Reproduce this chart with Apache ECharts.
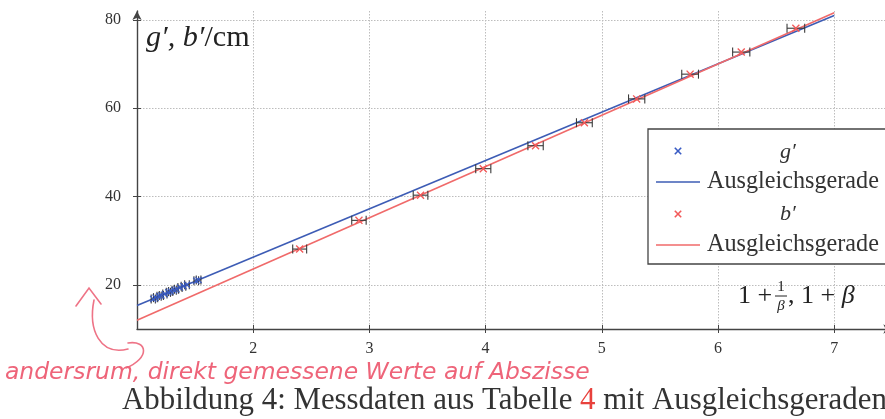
<!DOCTYPE html>
<html><head><meta charset="utf-8">
<script src="https://cdn.jsdelivr.net/npm/echarts@6/dist/echarts.min.js"></script>
<style>html,body{margin:0;padding:0;background:#fff}#c{width:885px;height:419px}</style>
</head><body><div id="c"></div>
<script>
// ---- data ----
const gX   = [1.14,1.16,1.19,1.21,1.24,1.27,1.29,1.32,1.34,1.37,1.40,1.43,1.51,1.53];
const gY   = [16.8,17.1,17.4,17.6,17.9,18.3,18.5,18.8,19.0,19.4,19.7,20.0,20.9,21.1];
const gErr = [0.018,0.018,0.018,0.018,0.018,0.018,0.018,0.018,0.018,0.018,0.02,0.02,0.02,0.02];
const bX   = [2.40,2.91,3.44,3.98,4.43,4.85,5.30,5.76,6.20,6.67];
const bY   = [28.1,34.6,40.3,46.3,51.5,56.7,62.1,67.7,72.7,78.1];
const bErr = [0.060,0.062,0.063,0.065,0.066,0.068,0.070,0.072,0.074,0.076];
const fitX    = [1, 7];
const gFitY   = [15.3, 81.0];
const bFitY   = [12.0, 81.6];
const xTicks  = [2,3,4,5,6,7];
const yTicks  = [20,40,60,80];

const BLUE='#3d5cb5', RED='#f06a6a', BLUE_M='#3a5cc4', RED_M='#f25a5a';
const SERIF='"Liberation Serif","DejaVu Serif",serif';
const CROSS='path://M0,1.2L1.2,0L5,3.8L8.8,0L10,1.2L6.2,5L10,8.8L8.8,10L5,6.2L1.2,10L0,8.8L3.8,5Z';

const cv=document.createElement('canvas').getContext('2d');
function fit(text,family,target,pre){cv.font=(pre?pre+' ':'')+'100px '+family;return 100*target/cv.measureText(text).width;}
const zip=(a,b,c)=>a.map((v,i)=>c?[v,b[i],c[i]]:[v,b[i]]);

function errBar(params,api){
  const x=api.value(0),y=api.value(1),e=api.value(2);
  const p1=api.coord([x-e,y]),p2=api.coord([x+e,y]);const h=4.5;
  const st={stroke:'#3a3a3a',lineWidth:1.1};
  return {type:'group',children:[
    {type:'line',shape:{x1:p1[0],y1:p1[1],x2:p2[0],y2:p2[1]},style:st},
    {type:'line',shape:{x1:p1[0],y1:p1[1]-h,x2:p1[0],y2:p1[1]+h},style:st},
    {type:'line',shape:{x1:p2[0],y1:p2[1]-h,x2:p2[0],y2:p2[1]+h},style:st}]};
}
function cross(cx,cy,r,color){
  return [{type:'line',z:21,shape:{x1:cx-r,y1:cy-r,x2:cx+r,y2:cy+r},style:{stroke:color,lineWidth:1.6}},
          {type:'line',z:21,shape:{x1:cx-r,y1:cy+r,x2:cx+r,y2:cy-r},style:{stroke:color,lineWidth:1.6}}];
}

const captionA='Abbildung 4: Messdaten aus Tabelle ', captionB='4', captionC=' mit Ausgleichsgeraden';
const capFs=fit(captionA+captionB+captionC,SERIF,765);
const hand='andersrum, direkt gemessene Werte auf Abszisse';
const HANDF='"DejaVu Sans",sans-serif';
const handFs=fit(hand,HANDF,585,'italic');
const legFs=fit('Ausgleichsgerade',SERIF,172);
const yNameFs=fit('g′, b′/cm',SERIF,102,'italic');
const HAND_C='#ee7386';
const hs={stroke:HAND_C,lineWidth:1.6,fill:null,lineCap:'round'};

const chart=echarts.init(document.getElementById('c'),null,{renderer:'canvas'});
chart.setOption({
  animation:false,
  grid:{left:137,top:11,width:755.3,height:318,outerBoundsMode:'none',containLabel:false},
  xAxis:[{type:'value',min:1,max:7.5,interval:1,
     axisLine:{lineStyle:{color:'#444',width:1.4},symbol:['none','arrow'],symbolSize:[7,9]},
     axisTick:{customValues:xTicks,length:4,lineStyle:{color:'#444'}},
     axisLabel:{customValues:xTicks,margin:12,fontFamily:SERIF,fontSize:16,color:'#333'},
     splitLine:{show:true,lineStyle:{color:'#bdbdbd',type:[1.5,1.5],width:1}}},
    {type:'value',min:1,max:7.5,interval:1,position:'bottom',
     axisLine:{show:false},axisTick:{inside:true,customValues:xTicks,length:4,lineStyle:{color:'#444'}},
     axisLabel:{show:false},splitLine:{show:false}}],
  yAxis:[{type:'value',min:10,max:82,interval:10,
     axisLine:{lineStyle:{color:'#444',width:1.4},symbol:['none','arrow'],symbolSize:[7,9]},
     axisTick:{customValues:yTicks,length:4,lineStyle:{color:'#444'}},
     axisLabel:{customValues:yTicks,margin:16,fontFamily:SERIF,fontSize:16,color:'#333'},
     splitLine:{show:true,lineStyle:{color:'#bdbdbd',type:[1.5,1.5],width:1}}},
    {type:'value',min:10,max:82,interval:10,position:'left',
     axisLine:{show:false},axisTick:{inside:true,customValues:yTicks,length:4,lineStyle:{color:'#444'}},
     axisLabel:{show:false},splitLine:{show:false}}],
  series:[
    {type:'line',data:zip(fitX,gFitY),symbol:'none',lineStyle:{color:BLUE,width:1.6},z:2},
    {type:'line',data:zip(fitX,bFitY),symbol:'none',lineStyle:{color:RED,width:1.6},z:2},
    {type:'custom',renderItem:errBar,data:zip(gX,gY,gErr),encode:{x:0,y:1},z:3},
    {type:'custom',renderItem:errBar,data:zip(bX,bY,bErr),encode:{x:0,y:1},z:3},
    {type:'scatter',data:zip(gX,gY),symbol:CROSS,symbolSize:7,itemStyle:{color:BLUE_M,opacity:1},z:4},
    {type:'scatter',data:zip(bX,bY),symbol:CROSS,symbolSize:8,itemStyle:{color:RED_M,opacity:1},z:4}
  ],
  graphic:[
    {type:'text',x:146,y:38,z:10,style:{rich:{i:{fontFamily:SERIF,fontStyle:'italic',fontSize:yNameFs,fill:'#222'},n:{fontFamily:SERIF,fontSize:yNameFs,fill:'#222'}},
      text:'{i|g′, b′}{n|/cm}',verticalAlign:'middle'}},
    {type:'text',x:738,y:296,z:10,style:{text:'1 +',fontFamily:SERIF,fontSize:26,fill:'#222',verticalAlign:'middle'}},
    {type:'text',x:781,y:287,z:10,style:{text:'1',fontFamily:SERIF,fontSize:15,fill:'#222',align:'center',verticalAlign:'middle'}},
    {type:'line',z:10,shape:{x1:775,y1:296,x2:787,y2:296},style:{stroke:'#222',lineWidth:1}},
    {type:'text',x:781,y:306,z:10,style:{text:'β',fontFamily:SERIF,fontStyle:'italic',fontSize:15,fill:'#222',align:'center',verticalAlign:'middle'}},
    {type:'text',x:788,y:296,z:10,style:{rich:{n:{fontFamily:SERIF,fontSize:26,fill:'#222'},i:{fontFamily:SERIF,fontStyle:'italic',fontSize:26,fill:'#222'}},text:'{n|, 1 + }{i|β}',verticalAlign:'middle'}},
    {type:'rect',z:20,shape:{x:648,y:129,width:250,height:135},style:{fill:'#fff',stroke:'#444',lineWidth:1.3}},
    ...cross(678,151,3.2,BLUE_M),
    {type:'text',z:21,x:788,y:152,style:{text:'g′',fontFamily:SERIF,fontStyle:'italic',fontSize:22,fill:'#333',align:'center',verticalAlign:'middle'}},
    {type:'line',z:21,shape:{x1:656,y1:182,x2:700,y2:182},style:{stroke:BLUE,lineWidth:1.6}},
    {type:'text',z:21,x:707,y:182,style:{text:'Ausgleichsgerade',fontFamily:SERIF,fontSize:legFs,fill:'#333',verticalAlign:'middle'}},
    ...cross(678,214,3.2,RED_M),
    {type:'text',z:21,x:788,y:214,style:{text:'b′',fontFamily:SERIF,fontStyle:'italic',fontSize:22,fill:'#333',align:'center',verticalAlign:'middle'}},
    {type:'line',z:21,shape:{x1:656,y1:245,x2:700,y2:245},style:{stroke:RED,lineWidth:1.6}},
    {type:'text',z:21,x:707,y:245,style:{text:'Ausgleichsgerade',fontFamily:SERIF,fontSize:legFs,fill:'#333',verticalAlign:'middle'}},
    {type:'polyline',z:15,shape:{points:[[76,306],[89,288],[101,304]]},style:hs},
    {type:'bezierCurve',z:15,shape:{x1:94,y1:300,cpx1:88,cpy1:330,cpx2:100,cpy2:356,x2:128,y2:349},style:hs},
    {type:'bezierCurve',z:15,shape:{x1:128,y1:343,cpx1:148,cpy1:340,cpx2:150,cpy2:358,x2:126,y2:368},style:hs},
    {type:'text',z:15,x:5,y:373,style:{text:hand,fontFamily:HANDF,fontStyle:'italic',fontSize:handFs,fill:'#ee6479',verticalAlign:'middle'}},
    {type:'text',z:15,x:122,y:401,style:{rich:{a:{fontFamily:SERIF,fontSize:capFs,fill:'#333'},r:{fontFamily:SERIF,fontSize:capFs,fill:'#e8413c'}},
      text:'{a|'+captionA+'}{r|'+captionB+'}{a|'+captionC+'}',verticalAlign:'middle'}}
  ]
});
</script></body></html>
